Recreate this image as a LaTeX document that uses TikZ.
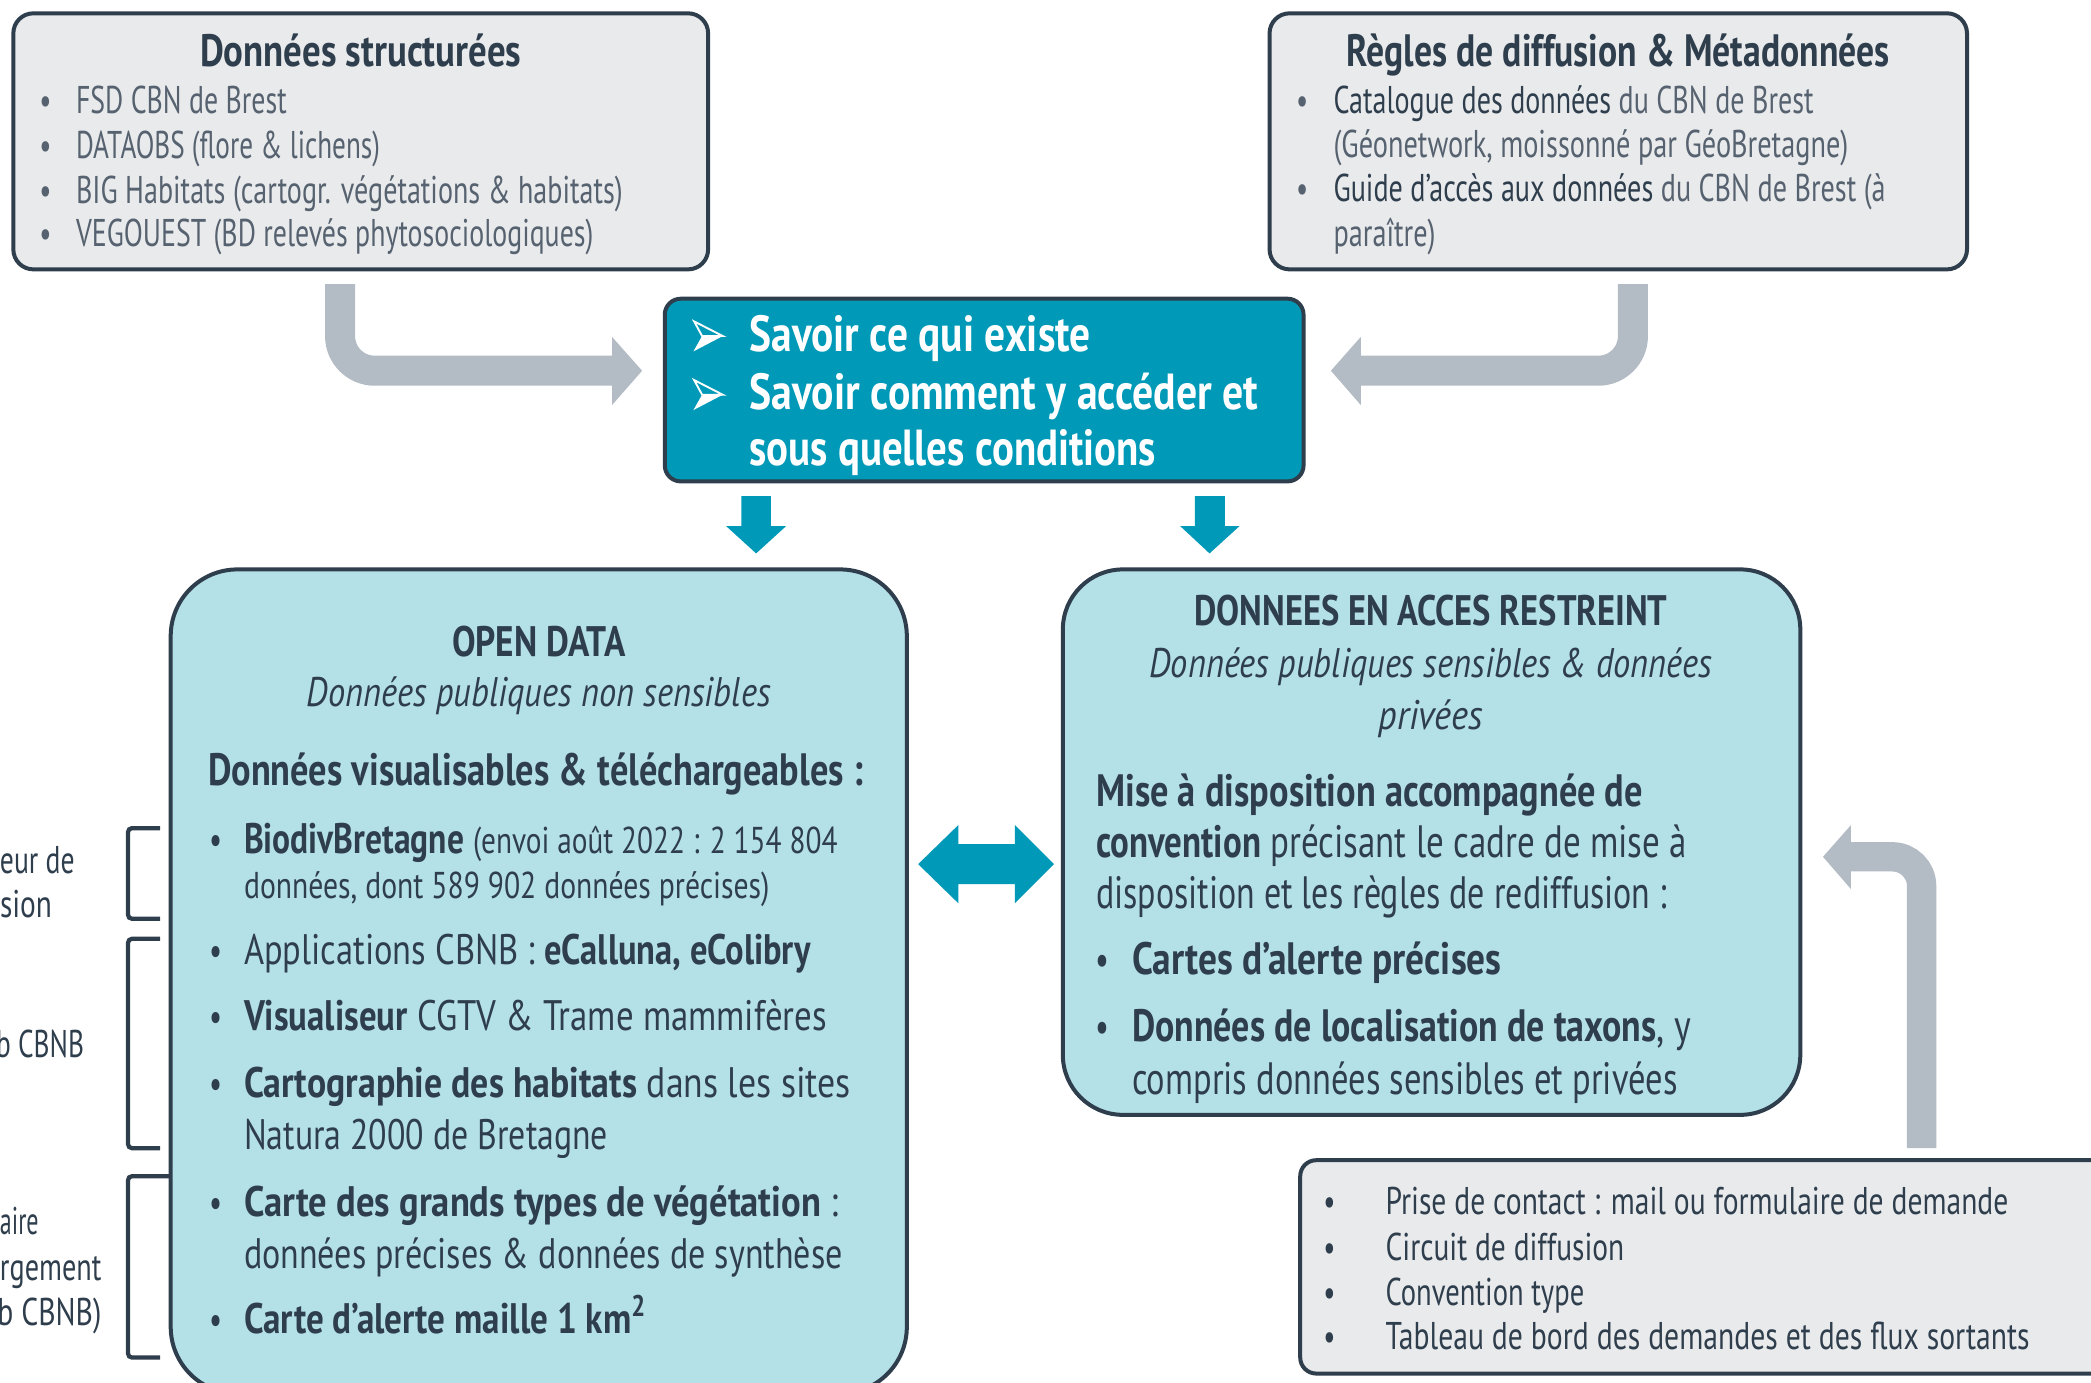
\documentclass[tikz,border=0pt]{standalone}
\usepackage{fontspec}
\usepackage{graphicx}
\setmainfont{PT Sans}[FakeStretch=0.72]
\newdimen\pxu \pxu=0.5pt
\newcommand\fw[2]{\resizebox{#1\pxu}{\height}{#2}}
\newcommand\fsz[1]{\fontsize{#1pt}{#1pt}\selectfont}
\definecolor{dk}{HTML}{2F3E4D}
\definecolor{ltx}{HTML}{56626F}
\definecolor{gfill}{HTML}{E9EAEC}
\definecolor{tealc}{HTML}{009AB8}
\definecolor{lblue}{HTML}{B4E0E8}
\definecolor{garrow}{HTML}{B3BBC4}
\tikzset{
 panel/.style={draw=dk, line width=1.5pt, inner sep=0pt},
 tl/.style={inner sep=0pt, outer sep=0pt, anchor=base west, text=dk},
 tc/.style={inner sep=0pt, outer sep=0pt, anchor=base, text=dk},
 grarrow/.style={draw=garrow, line width=11.25pt, rounded corners=13pt},
 bracket/.style={draw=dk, line width=1.6pt, rounded corners=1.5pt},
 arrowbullet/.style={white, line width=0.7pt, line join=miter},
}
\begin{document}
\begin{tikzpicture}[x=0.5pt,y=-0.5pt]
\useasboundingbox (0,0) rectangle (1568,1037);
\clip (0,0) rectangle (1568,1037);

% ---------- panels ----------
\node[panel, fill=gfill, rounded corners=7.5pt, minimum width=260.5pt, minimum height=96pt] (b1) at (270.5,106) {};
\node[panel, fill=gfill, rounded corners=7.5pt, minimum width=261.5pt, minimum height=96pt] (b2) at (1213.5,106) {};
\node[panel, fill=tealc, rounded corners=6pt, minimum width=239.5pt, minimum height=68.5pt] (bc) at (738,292.5) {};
\node[panel, fill=lblue, rounded corners=25pt, minimum width=276pt, minimum height=309pt] (bo) at (404,736) {};
\node[panel, fill=lblue, rounded corners=22.5pt, minimum width=276.5pt, minimum height=204.5pt] (br) at (1073.5,631.5) {};
\node[panel, fill=gfill, rounded corners=6pt, minimum width=302.5pt, minimum height=80pt] (bb) at (1277.5,950) {};

% ---------- gray bent arrows ----------
\coordinate (ga1s) at (255,213);
\coordinate (ga1c) at (255,278);
\coordinate (ga1e) at (460,278);
\draw[grarrow] (ga1s) -- (ga1c) -- (ga1e);
\fill[garrow] (459,252.7) -- (481.5,278) -- (459,303.7) -- cycle;

\coordinate (ga2s) at (1224.5,213);
\coordinate (ga2c) at (1224.5,278);
\coordinate (ga2e) at (1019.4,278);
\draw[grarrow] (ga2s) -- (ga2c) -- (ga2e);
\fill[garrow] (1020.4,252.7) -- (998,278) -- (1020.4,303.7) -- cycle;

\coordinate (ga3s) at (1441,861);
\coordinate (ga3c) at (1441,642.5);
\coordinate (ga3e) at (1387,642.5);
\draw[draw=garrow, line width=11pt, rounded corners=11pt] (ga3s) -- (ga3c) -- (ga3e);
\fill[garrow] (1388,618.7) -- (1367,642.5) -- (1388,666.7) -- cycle;

% ---------- teal arrows ----------
\fill[tealc] (556,372) -- (578,372) -- (578,394.5) -- (589.5,394.5) -- (567,415) -- (544.5,394.5) -- (556,394.5) -- cycle;
\fill[tealc] (896,372) -- (918.5,372) -- (918.5,394.5) -- (929.5,394.5) -- (907,415) -- (885,394.5) -- (896,394.5) -- cycle;
\fill[tealc] (688.5,648) -- (718.6,618.7) -- (718.6,633) -- (761,633) -- (761,618.7) -- (790.4,648) -- (761,677.3) -- (761,663) -- (718.6,663) -- (718.6,677.3) -- cycle;

% ---------- brackets ----------
\draw[bracket] (120,621) -- (96,621) -- (96,689) -- (120,689);
\draw[bracket] (120,704) -- (96,704) -- (96,861) -- (120,861);
\draw[bracket] (128,882) -- (96,882) -- (96,1018) -- (120,1018);

% ---------- left fragments ----------
\node[tl, font=\fsz{14.5}] (f1) at (0,655) {\fw{56}{eur de}};
\node[tl, font=\fsz{14.5}] (f2) at (0,688) {\fw{39}{sion}};
\node[tl, font=\fsz{14.5}] (f3) at (-3,793) {\fw{66}{b CBNB}};
\node[tl, font=\fsz{14.5}] (f4) at (0,926) {\fw{29}{aire}};
\node[tl, font=\fsz{14.5}] (f5) at (0,960) {\fw{76}{rgement}};
\node[tl, font=\fsz{14.5}] (f6) at (-2,994) {\fw{78}{b CBNB)}};

% ---------- box 1 ----------
\node[tc, font=\fsz{17}\bfseries] (b1t) at (270.5,50) {\fw{241}{Données structurées}};
\node[tc, text=ltx, font=\fsz{14}] (b1p1) at (34,85) {•};
\node[tc, text=ltx, font=\fsz{14}] (b1p2) at (34,119) {•};
\node[tc, text=ltx, font=\fsz{14}] (b1p3) at (34,152.5) {•};
\node[tc, text=ltx, font=\fsz{14}] (b1p4) at (34,185) {•};
\node[tl, text=ltx, font=\fsz{14.5}] (b1l1) at (57,85) {\fw{158}{FSD CBN de Brest}};
\node[tl, text=ltx, font=\fsz{14.5}] (b1l2) at (57,119) {\fw{228}{DATAOBS (flore \& lichens)}};
\node[tl, text=ltx, font=\fsz{14.5}] (b1l3) at (57,152.5) {\fw{410}{BIG Habitats (cartogr. végétations \& habitats)}};
\node[tl, text=ltx, font=\fsz{14.5}] (b1l4) at (57,185) {\fw{388}{VEGOUEST (BD relevés phytosociologiques)}};

% ---------- box 2 ----------
\node[tc, font=\fsz{17}\bfseries] (b2t) at (1213.5,50) {\fw{407}{Règles de diffusion \& Métadonnées}};
\node[tc, text=ltx, font=\fsz{14}] (b2p1) at (976.5,85) {•};
\node[tc, text=ltx, font=\fsz{14}] (b2p2) at (976.5,151) {•};
\node[tl, text=ltx, font=\fsz{14.5}] (b2l1) at (1000,85) {\fw{360}{\textcolor{dk}{Catalogue des données} du CBN de Brest}};
\node[tl, text=ltx, font=\fsz{14.5}] (b2l2) at (1000,118) {\fw{386}{(Géonetwork, moissonné par GéoBretagne)}};
\node[tl, text=ltx, font=\fsz{14.5}] (b2l3) at (1000,151) {\fw{414}{\textcolor{dk}{Guide d’accès aux données} du CBN de Brest (à}};
\node[tl, text=ltx, font=\fsz{14.5}] (b2l4) at (1000,185) {\fw{76.5}{paraître)}};

% ---------- centre box ----------
\fill[white] (526.5,252) -- (542,252) -- (520,263.5) -- cycle;
\draw[arrowbullet] (520.5,241) -- (542,252) -- (526.5,252) -- cycle;
\fill[white] (526.5,296) -- (542,296) -- (520,307.5) -- cycle;
\draw[arrowbullet] (520.5,285) -- (542,296) -- (526.5,296) -- cycle;
\node[tl, text=white, font=\fsz{19}\bfseries] (bcl1) at (562,263.75) {\fw{256}{Savoir ce qui existe}};
\node[tl, text=white, font=\fsz{19}\bfseries] (bcl2) at (562,307) {\fw{381.5}{Savoir comment y accéder et}};
\node[tl, text=white, font=\fsz{19}\bfseries] (bcl3) at (562,348.75) {\fw{305}{sous quelles conditions}};

% ---------- open data ----------
\node[tc, font=\fsz{16}\bfseries] (bot) at (404,492) {\fw{130}{OPEN DATA}};
\node[tc, font=\fsz{15.5}\itshape] (bos) at (404,530) {\fw{348}{Données publiques non sensibles}};
\node[tl, font=\fsz{17}\bfseries] (boh) at (156,589) {\fw{491}{Données visualisables \& téléchargeables :}};
\node[tc, font=\fsz{15}] (bop1) at (162,640) {•};
\node[tc, font=\fsz{15}] (bop2) at (162,723) {•};
\node[tc, font=\fsz{15}] (bop3) at (162,773) {•};
\node[tc, font=\fsz{15}] (bop4) at (162,823) {•};
\node[tc, font=\fsz{15}] (bop5) at (162,912) {•};
\node[tc, font=\fsz{15}] (bop6) at (162,1000) {•};
\node[tl, font=\fsz{16}] (bol1) at (183,640) {\fw{445}{\textbf{BiodivBretagne} {\fsz{14}(envoi août 2022 : 2 154 804}}};
\node[tl, font=\fsz{14}] (bol2) at (183,674) {\fw{394}{données, dont 589 902 données précises)}};
\node[tl, font=\fsz{16}] (bol3) at (183,723) {\fw{425}{Applications CBNB : \textbf{eCalluna, eColibry}}};
\node[tl, font=\fsz{16}] (bol4) at (183,773) {\fw{437}{\textbf{Visualiseur} CGTV \& Trame mammifères}};
\node[tl, font=\fsz{16}] (bol5) at (183,823) {\fw{455}{\textbf{Cartographie des habitats} dans les sites}};
\node[tl, font=\fsz{16}] (bol6) at (183,862) {\fw{273}{Natura 2000 de Bretagne}};
\node[tl, font=\fsz{16}] (bol7) at (183,912) {\fw{446}{\textbf{Carte des grands types de végétation} :}};
\node[tl, font=\fsz{16}] (bol8) at (183,951) {\fw{449}{données précises \& données de synthèse}};
\node[tl, font=\fsz{16}\bfseries] (bol9) at (183,1000) {\fw{302}{Carte d’alerte maille 1 km\textsuperscript{2}}};

% ---------- restricted ----------
\node[tc, font=\fsz{16}\bfseries] (brt) at (1073,469) {\fw{355}{DONNEES EN ACCES RESTREINT}};
\node[tc, font=\fsz{15.5}\itshape] (brs1) at (1073,508) {\fw{422}{Données publiques sensibles \& données}};
\node[tc, font=\fsz{15.5}\itshape] (brs2) at (1073,547) {\fw{78}{privées}};
\node[tl, font=\fsz{17}\bfseries] (brl1) at (822,605) {\fw{410}{Mise à disposition accompagnée de}};
\node[tl, font=\fsz{17}] (brl2) at (822,643) {\fw{443}{\textbf{convention} précisant le cadre de mise à}};
\node[tl, font=\fsz{17}] (brl3) at (822,681) {\fw{428}{disposition et les règles de rediffusion :}};
\node[tc, font=\fsz{16}] (brp1) at (827,731) {•};
\node[tc, font=\fsz{16}] (brp2) at (827,781) {•};
\node[tl, font=\fsz{17}\bfseries] (brl4) at (849,731) {\fw{277}{Cartes d’alerte précises}};
\node[tl, font=\fsz{17}] (brl5) at (849,781) {\fw{419}{\textbf{Données de localisation de taxons}, y}};
\node[tl, font=\fsz{17}] (brl6) at (849,821) {\fw{409}{compris données sensibles et privées}};

% ---------- bottom right ----------
\node[tc, font=\fsz{14}] (bbp1) at (997,911) {•};
\node[tc, font=\fsz{14}] (bbp2) at (997,945) {•};
\node[tc, font=\fsz{14}] (bbp3) at (997,979) {•};
\node[tc, font=\fsz{14}] (bbp4) at (997,1012) {•};
\node[tl, font=\fsz{14.5}] (bbl1) at (1039,911) {\fw{467}{Prise de contact : mail ou formulaire de demande}};
\node[tl, font=\fsz{14.5}] (bbl2) at (1039,945) {\fw{179}{Circuit de diffusion}};
\node[tl, font=\fsz{14.5}] (bbl3) at (1039,979) {\fw{149}{Convention type}};
\node[tl, font=\fsz{14.5}] (bbl4) at (1039,1012) {\fw{483}{Tableau de bord des demandes et des flux sortants}};
\end{tikzpicture}
\end{document}
